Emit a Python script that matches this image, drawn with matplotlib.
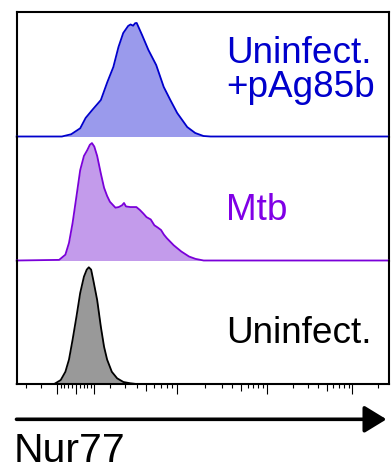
import numpy as np
import matplotlib
matplotlib.use("Agg")
import matplotlib.pyplot as plt
from matplotlib.markers import TICKDOWN

plt.rcParams["font.family"] = ["Liberation Sans", "DejaVu Sans"]

# ---- histogram data: Nur77 intensity vs. event density (% of panel height) ----
pag_x = [-72, -22, 22, 50, 89, 138, 181, 220, 253, 287, 325, 345, 367, 385, 400,
         456, 529, 629, 743, 860, 1000, 1286, 1571, 1930, 2294]
pag_y = [0, 1.8, 6.6, 14.9, 21.3, 29.3, 43.8, 55.8, 71.9, 83.1, 88.8, 90.0, 89.0, 91.0, 91.2,
         81.5, 69.5, 57.4, 39.8, 29.3, 18.9, 7.6, 2.8, 0.4, 0]

mtb_x = [-89, -52, -33, -15, 4, 22, 41, 59, 74, 87, 102, 117, 138, 158, 179, 200,
         233, 255, 278, 293, 308, 342, 397, 433, 470, 507, 557, 604, 653, 700,
         747, 796, 926, 1107, 1346, 1582, 1940]
mtb_y = [0.5, 4.7, 14.2, 30.3, 52.1, 72.9, 84.3, 89.0, 93.3, 94.7, 91.9, 84.3, 70.1, 58.7, 52.1, 47.4,
         42.6, 43.1, 44.5, 46.4, 43.6, 43.1, 43.1, 40.7, 37.9, 35.0, 33.1, 28.4, 26.5, 24.6,
         20.8, 18.0, 12.3, 7.3, 3.2, 1.3, 0]

uninf_x = [-117, -79, -52, -33, -15, 4, 22, 41, 56, 68, 82, 96, 117, 138, 158, 179,
           211, 244, 289, 342, 397]
uninf_y = [0, 3.2, 9.9, 19.8, 35.9, 54.8, 73.7, 86.9, 92.6, 94.5, 92.6, 84.1, 68.0, 46.3, 30.2, 19.8,
           9.9, 4.6, 1.6, 0.6, 0]

samples = ["Uninfect.\n+pAg85b", "Mtb", "Uninfect."]
series_x = [pag_x, mtb_x, uninf_x]
series_y = [pag_y, mtb_y, uninf_y]

line_colors = ["#0000CC", "#7A00D9", "#000000"]
fill_colors = ["#9A9AEC", "#C39BEB", "#999999"]
text_colors = ["#0000CC", "#8000E6", "#000000"]

axis_label = "Nur77"

# ---- biexponential display scale (value -> display units, symmetric about 0) ----
biex_values = np.array([0, 100, 200, 300, 400, 500, 1000, 2000, 3000, 5000,
                        1e4, 2e4, 1e5, 262144])
biex_display = np.array([0, 18.2, 34.2, 49.2, 61.0, 70.2, 101.5, 129.2, 145.9, 165.2,
                         190.9, 216.9, 276.8, 312.8])
_s = np.arcsinh(biex_values / 100.0)
_far = _s[-1] + 20.0
_s = np.append(_s, _far)
_d = np.append(biex_display, biex_display[-1] + 37.3 * 20.0)
knot_s = np.concatenate([-_s[::-1], _s[1:]])
knot_d = np.concatenate([-_d[::-1], _d[1:]])


def biex_forward(x):
    return np.interp(np.arcsinh(np.asarray(x, dtype=float) / 100.0), knot_s, knot_d)


def biex_inverse(u):
    return 100.0 * np.sinh(np.interp(np.asarray(u, dtype=float), knot_d, knot_s))


x_range = (-381, 262144)

major_ticks = [-100, 0, 100, 1e3, 1e4, 1e5]
mid_ticks = [500, 5e3, 5e4]
minor_ticks = ([-300, -200, -80, -60, -40, -20, 20, 40, 60, 80]
               + [v * 100 for v in (2, 3, 4, 6, 7, 8, 9)]
               + [v * 1000 for v in (2, 3, 4, 6, 7, 8, 9)]
               + [v * 10000 for v in (2, 3, 4, 6, 7, 8, 9)]
               + [2e5])

# ---- figure layout ----
W, H = 392, 471
fig = plt.figure(figsize=(W / 100, H / 100), dpi=100)

left_px, right_px = 16.7, 388.5
panel_edges_px = [12, 136.5, 260.5, 384]  # from top

axes = []
for i in range(3):
    top, bot = panel_edges_px[i], panel_edges_px[i + 1]
    ax = fig.add_axes([left_px / W, (H - bot) / H, (right_px - left_px) / W, (bot - top) / H])
    ax.set_xscale("function", functions=(biex_forward, biex_inverse))
    ax.set_xlim(*x_range)
    ax.set_ylim(0, 100)
    for side in ("left", "right", "top", "bottom"):
        ax.spines[side].set_linewidth(1.5)
        ax.spines[side].set_color("black")
    ax.spines["top"].set_visible(i == 0)
    ax.spines["bottom"].set_visible(i == 2)
    ax.set_yticks([])
    ax.patch.set_alpha(0)
    axes.append(ax)

for i, ax in enumerate(axes):
    xs = np.concatenate([[x_range[0]], series_x[i], [x_range[1]]])
    ys = np.concatenate([[0], series_y[i], [0]])
    ax.fill_between(xs, ys, 0, color=fill_colors[i], lw=0, zorder=2)
    ax.plot(xs, ys, color=line_colors[i], lw=1.3, clip_on=False, zorder=3,
            solid_joinstyle="round")

# sample labels (one baseline per line)
label_x = 0.564
label_y = [0.593, 0.327, 0.33]
line_step = 0.277  # baseline-to-baseline distance in panel fraction
for i, ax in enumerate(axes):
    for j, line in enumerate(samples[i].split("\n")):
        ax.text(label_x, label_y[i] - j * line_step, line, transform=ax.transAxes,
                fontsize=26.6, color=text_colors[i], ha="left", va="baseline")

# ticks only on the bottom axis, no labels
for ax in axes[:2]:
    ax.tick_params(axis="x", which="both", bottom=False, labelbottom=False)
    ax.minorticks_off()
    ax.set_xticks([])

ax3 = axes[2]
ax3.set_xticks(major_ticks)
ax3.set_xticks(minor_ticks, minor=True)
ax3.tick_params(axis="x", which="major", length=7.2, width=0.8, labelbottom=False)
ax3.tick_params(axis="x", which="minor", length=2.9, width=0.8)
ax3.plot(mid_ticks, [0] * len(mid_ticks), transform=ax3.get_xaxis_transform(),
         ls="none", marker=TICKDOWN, ms=4.7, mew=0.8, color="black", clip_on=False)

# axis arrow and label
ax3.annotate("", xy=(386.5, H - 419.3), xytext=(16.5, H - 419.3),
             xycoords="figure pixels", textcoords="figure pixels",
             arrowprops=dict(arrowstyle="-|>,head_length=0.9,head_width=0.55",
                             mutation_scale=15, lw=2.6, color="black",
                             shrinkA=0, shrinkB=0))
fig.text(14 / W, 0.5 / H, axis_label, fontsize=29.5, ha="left", va="bottom")

fig.savefig("out.png", dpi=100)
